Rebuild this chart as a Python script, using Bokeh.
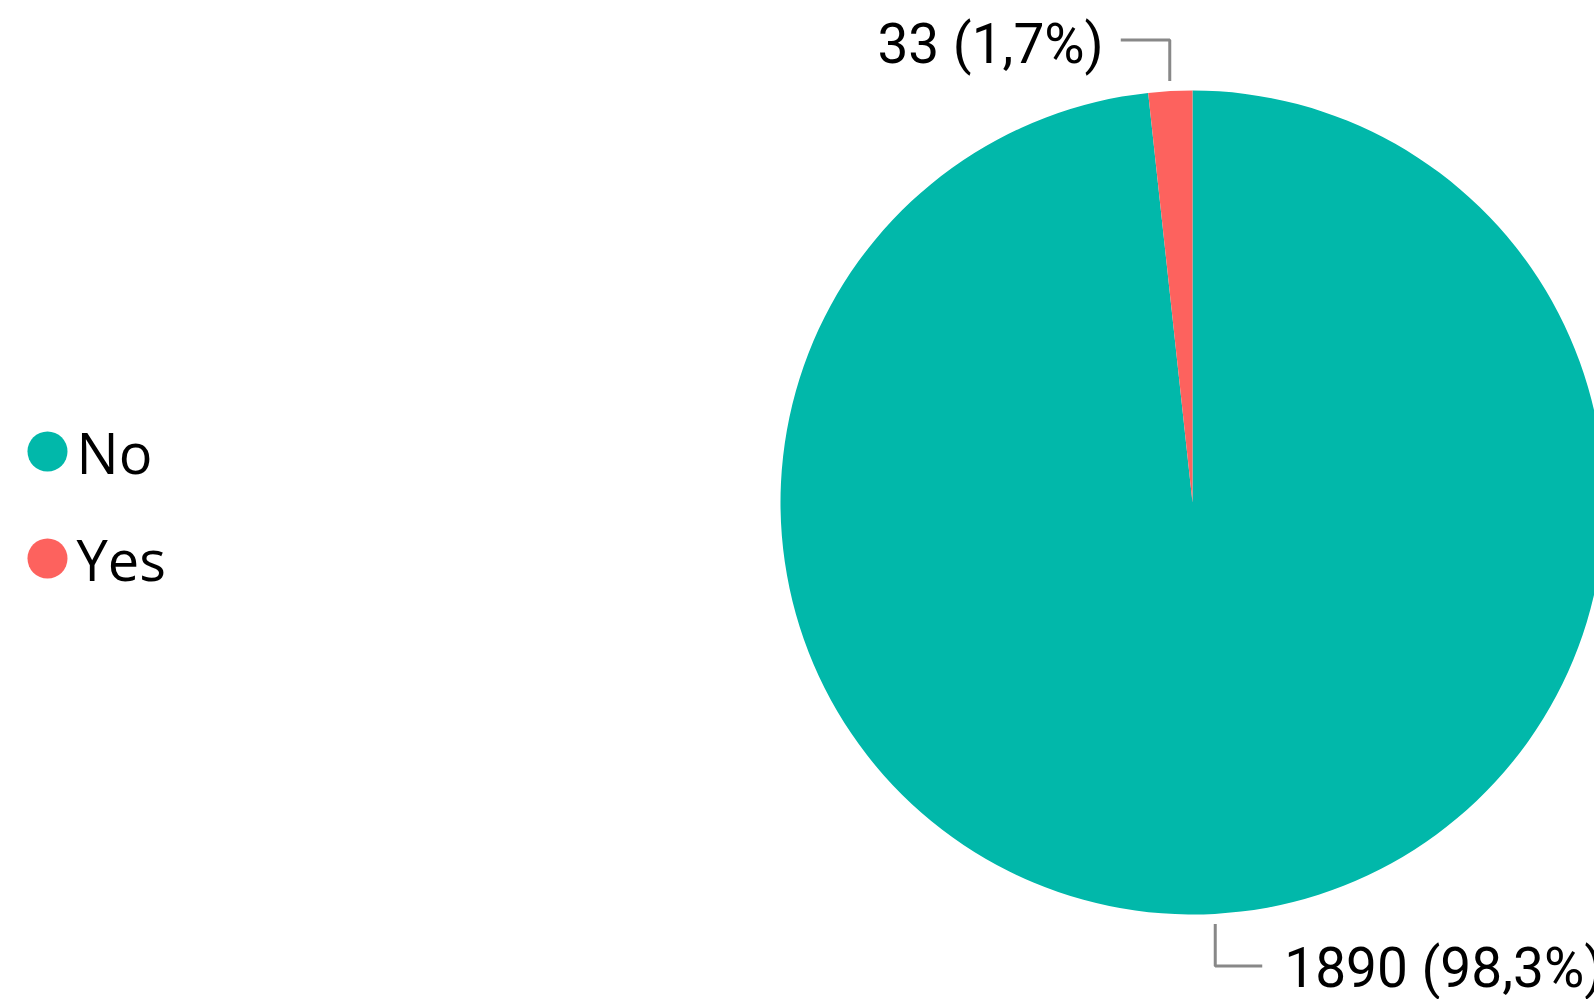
import math
from bokeh.plotting import figure
from bokeh.models import Range1d, ColumnDataSource
from bokeh.core.properties import value
from bokeh.embed import file_html
from bokeh.resources import INLINE

# ---- data ----
categories = ["No", "Yes"]
counts = [1890, 33]
colors = ["#01B8AA", "#FD625E"]

total = sum(counts)
fracs = [c / total for c in counts]

# ---- layout (page pixels) ----
W, H = 1594, 999
CX, CY_PAGE, R = 1192, 502, 412


def py(page_y):
    return H - page_y


p = figure(width=W, height=H, output_backend="svg", toolbar_location=None,
           x_range=Range1d(0, W), y_range=Range1d(0, H),
           min_border=0, x_axis_type=None, y_axis_type=None)
p.outline_line_color = None
p.grid.visible = False
p.background_fill_color = "white"
p.border_fill_color = "white"

# wedges, clockwise from 12 o'clock
starts, ends, mids = [], [], []
cum = 0.0
for f in fracs:
    s = math.pi / 2 - 2 * math.pi * cum
    e = math.pi / 2 - 2 * math.pi * (cum + f)
    starts.append(s)
    ends.append(e)
    mids.append((s + e) / 2)
    cum += f

src = ColumnDataSource(dict(x=[CX] * len(counts), y=[py(CY_PAGE)] * len(counts),
                            start=starts, end=ends, color=colors))
p.wedge(x="x", y="y", radius=R, start_angle="start", end_angle="end",
        direction="clock", fill_color="color", line_color=None, source=src)

# data labels with leader lines
font_lbl = value("Roboto")
LBL_CORR = 19
for i, (c, f, m) in enumerate(zip(counts, fracs, mids)):
    pct = f"{f * 100:.1f}".replace(".", ",")
    txt = f"{c} ({pct}%)"
    sx = CX + (R + 10) * math.cos(m)
    sy = py(CY_PAGE) + (R + 10) * math.sin(m)
    if math.sin(m) > 0:
        ey = sy + 41
        ex = sx - 49
        p.line([sx, sx, ex], [sy, ey, ey], line_color="#888888", line_width=3)
        p.text([ex - 17], [ey - 23 + LBL_CORR], text=[txt], text_font=font_lbl,
               text_font_size="55px", text_align="right",
               text_baseline="alphabetic", text_color="black")
    else:
        ey = sy - 42
        ex = sx + 47
        p.line([sx, sx, ex], [sy, ey, ey], line_color="#888888", line_width=3)
        p.text([ex + 22], [ey - 21 + LBL_CORR], text=[txt], text_font=font_lbl,
               text_font_size="55px", text_align="left",
               text_baseline="alphabetic", text_color="black")

# legend
leg_x = 47
leg_y0 = 451
leg_dy = 107
LEG_CORR = 24
for i, (cat, col) in enumerate(zip(categories, colors)):
    yy = py(leg_y0 + i * leg_dy)
    p.scatter([leg_x], [yy], size=40, marker="circle", fill_color=col, line_color=None)
    p.text([leg_x + 29], [yy - 24 + LEG_CORR], text=[cat], text_font=value("Open Sans"),
           text_font_size="56px", text_align="left", text_baseline="alphabetic",
           text_color="black")

open("out.html", "w").write(file_html(p, INLINE))
